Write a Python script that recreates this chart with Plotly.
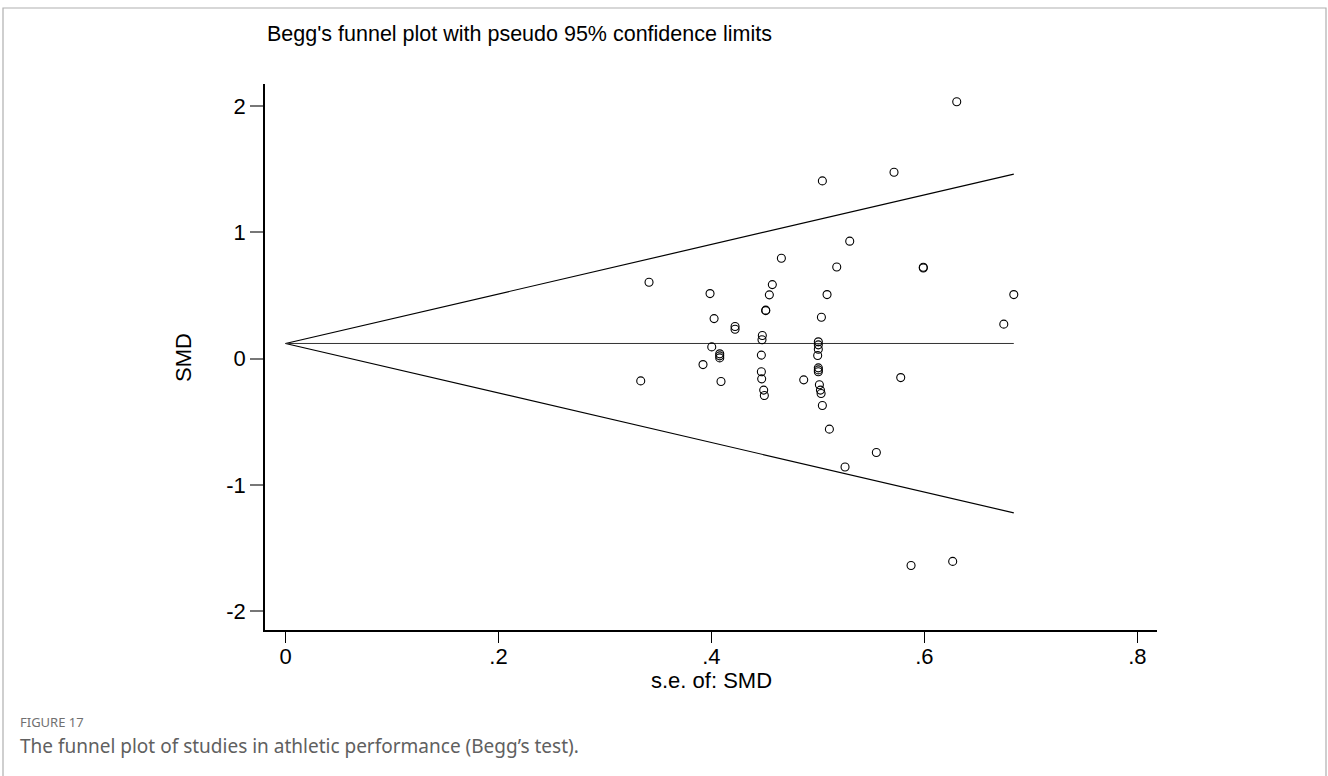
import plotly.graph_objects as go

# Standard error and standardized mean difference of each study
se = [0.3336, 0.3414, 0.3921, 0.3987, 0.4003, 0.4025, 0.4078, 0.4078, 0.4078, 0.4090,
      0.4222, 0.4222, 0.4469, 0.4469, 0.4472, 0.4475, 0.4478, 0.4491, 0.4497, 0.4510,
      0.4510, 0.4544, 0.4572, 0.4657, 0.4867, 0.4998, 0.5004, 0.5004, 0.5004, 0.5004,
      0.5004, 0.5004, 0.5014, 0.5024, 0.5030, 0.5033, 0.5042, 0.5042, 0.5086, 0.5108,
      0.5177, 0.5255, 0.5299, 0.5549, 0.5715, 0.5778, 0.5875, 0.5990, 0.5990, 0.6266,
      0.6304, 0.6746, 0.6840]
smd = [-0.176, 0.605, -0.047, 0.515, 0.093, 0.317, 0.038, 0.022, 0.006, -0.181,
       0.254, 0.233, 0.028, -0.104, -0.160, 0.149, 0.183, -0.249, -0.292, 0.384,
       0.380, 0.505, 0.586, 0.795, -0.168, 0.025, 0.133, 0.109, 0.075, -0.073,
       -0.089, -0.104, -0.207, -0.249, -0.276, 0.328, 1.407, -0.371, 0.507, -0.558,
       0.726, -0.858, 0.930, -0.743, 1.475, -0.150, -1.637, 0.724, 0.718, -1.605,
       2.034, 0.273, 0.507]

pooled = 0.12          # fixed-effect pooled SMD
z95 = 1.96             # pseudo 95% limits

x_ticks = [0, 0.2, 0.4, 0.6, 0.8]
x_ticklabels = ["0", ".2", ".4", ".6", ".8"]
y_ticks = [-2, -1, 0, 1, 2]
y_ticklabels = ["-2", "-1", "0", "1", "2"]

se_max = max(se)
se_line = [0.0, se_max]

W, H = 1328, 776
L, R, T, B = 265, 1157, 84, 630   # plot area in pixels


def px(xp):
    return (xp - L) / (R - L)


def py(yp):
    return (B - yp) / (B - T)


fig = go.Figure()

# funnel limits
fig.add_trace(go.Scatter(x=se_line, y=[pooled + z95 * s for s in se_line], mode="lines",
                         line=dict(color="black", width=1.2), hoverinfo="skip"))
fig.add_trace(go.Scatter(x=se_line, y=[pooled - z95 * s for s in se_line], mode="lines",
                         line=dict(color="black", width=1.2), hoverinfo="skip"))
# pooled estimate
fig.add_trace(go.Scatter(x=se_line, y=[pooled, pooled], mode="lines",
                         line=dict(color="#333333", width=1), hoverinfo="skip"))
# studies
fig.add_trace(go.Scatter(x=se, y=smd, mode="markers",
                         marker=dict(symbol="circle-open", size=8, color="black",
                                     line=dict(width=1.1, color="black"))))

fig.update_layout(
    width=W, height=H,
    margin=dict(l=L, r=W - R, t=T, b=H - B, pad=0),
    paper_bgcolor="white", plot_bgcolor="white",
    showlegend=False,
    font=dict(family="Liberation Sans, Arial, sans-serif", color="black"),
    xaxis=dict(range=[-0.0193, 0.8185], tickvals=x_ticks, ticktext=x_ticklabels,
               showgrid=False, zeroline=False, showline=True, linecolor="black", linewidth=1.5,
               ticks="outside", ticklen=11, tickwidth=1.2, tickcolor="black",
               ticklabelstandoff=-5,
               tickfont=dict(size=22), mirror=False),
    yaxis=dict(range=[-2.148, 2.174], tickvals=y_ticks, ticktext=y_ticklabels,
               showgrid=False, zeroline=False, showline=True, linecolor="black", linewidth=1.5,
               ticks="outside", ticklen=13, tickwidth=1.5, tickcolor="#777777",
               tickfont=dict(size=22), mirror=False),
)

anns = [
    dict(text="Begg's funnel plot with pseudo 95% confidence limits", x=px(265), y=py(34),
         xanchor="left", yanchor="middle", font=dict(size=21.5, family="Liberation Sans, Arial")),
    dict(text="s.e. of: SMD", x=px(711), y=py(680), xanchor="center", yanchor="middle",
         font=dict(size=22, family="Liberation Sans, Arial")),
    dict(text="SMD", x=px(183), y=py(358), xanchor="center", yanchor="middle", textangle=-90,
         font=dict(size=22, family="Liberation Sans, Arial")),
    dict(text="FIGURE 17", x=px(18), y=py(722), xanchor="left", yanchor="middle",
         font=dict(size=13, family="Noto Sans", color="#707070")),
    dict(text="The funnel plot of studies in athletic performance (Begg\u2019s test).",
         x=px(18), y=py(746), xanchor="left", yanchor="middle",
         font=dict(size=19, family="Noto Sans", color="#606060")),
]
for a in anns:
    a.update(xref="paper", yref="paper", showarrow=False)
    fig.add_annotation(**a)

# card border around the figure
fig.add_shape(type="rect", xref="paper", yref="paper",
              x0=px(3), x1=px(1326), y0=py(8), y1=py(790),
              line=dict(color="#b0b0b0", width=1.2), fillcolor="rgba(0,0,0,0)", layer="below")

fig.write_html("out.html")
